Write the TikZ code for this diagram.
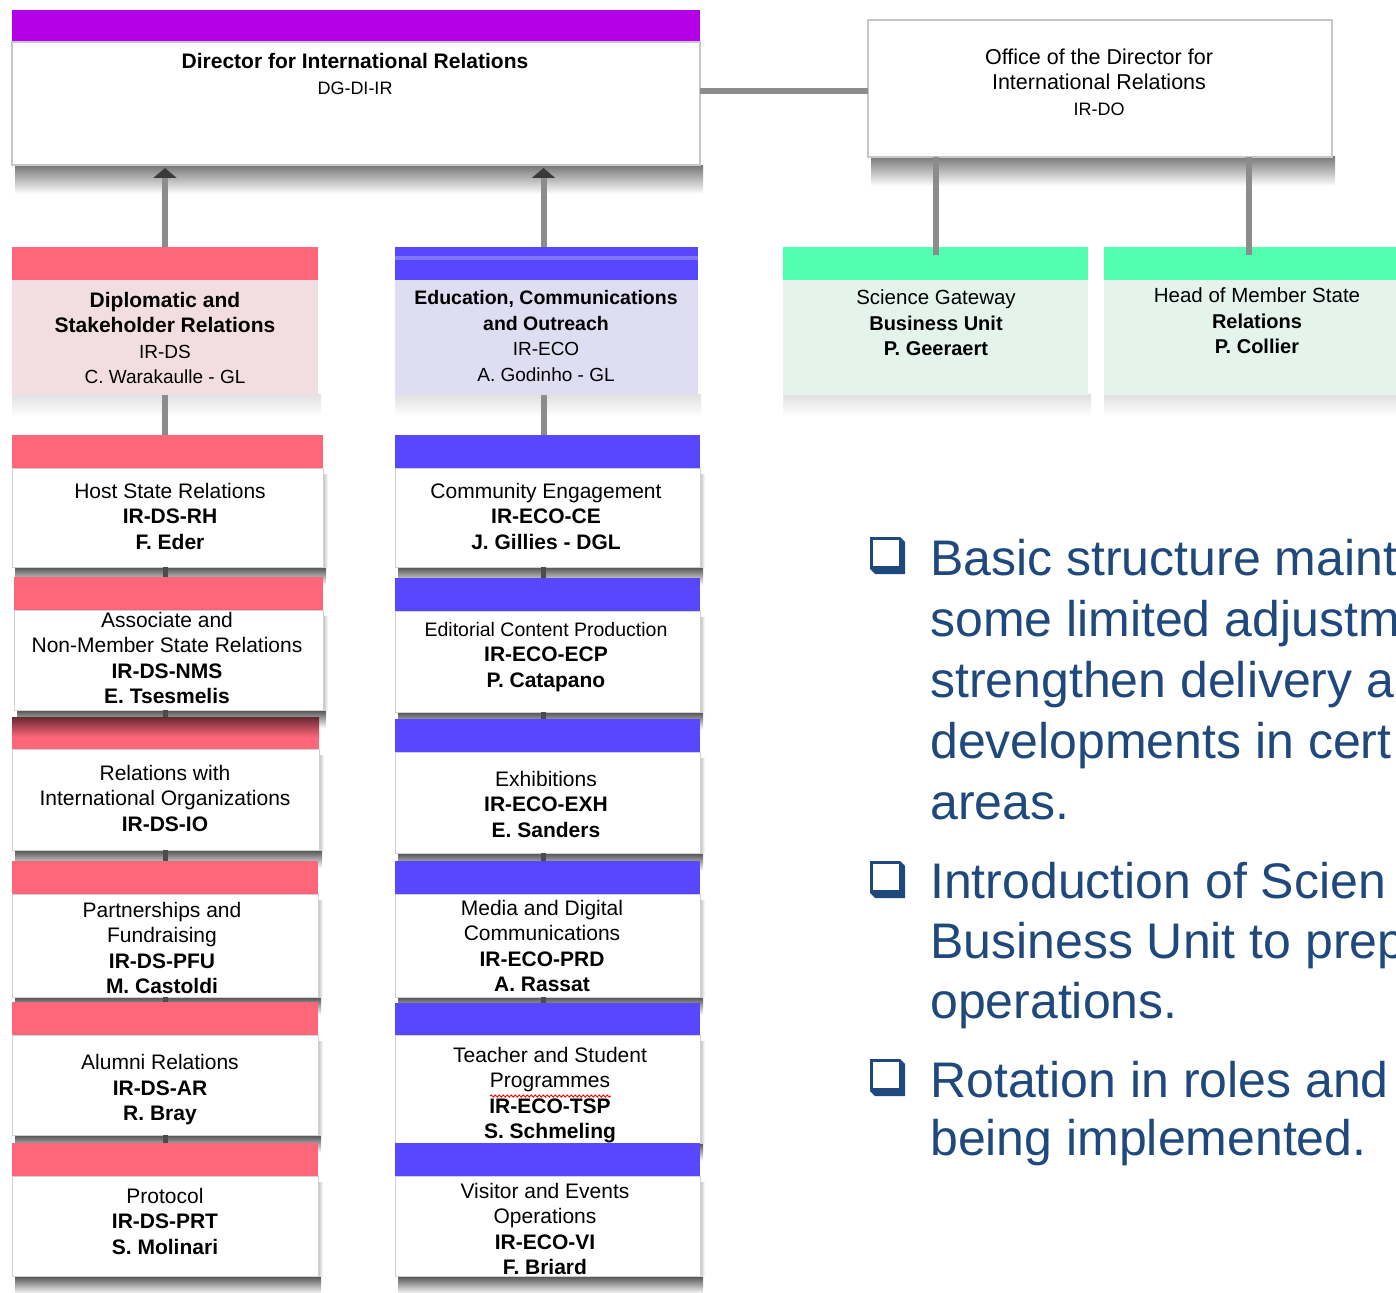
\documentclass[tikz,border=0pt]{standalone}
\usepackage{fontspec}
\setmainfont{Liberation Sans}
\usetikzlibrary{arrows.meta,decorations.pathmorphing}
\definecolor{purplebar}{RGB}{179,0,230}
\definecolor{pinkbar}{RGB}{255,102,122}
\definecolor{bluebar}{RGB}{87,71,255}
\definecolor{greenbar}{RGB}{82,255,176}
\definecolor{pinkbody}{RGB}{242,222,225}
\definecolor{bluebody}{RGB}{222,221,242}
\definecolor{greenbody}{RGB}{228,244,236}
\definecolor{conncol}{RGB}{140,140,140}
\definecolor{tipcol}{RGB}{58,58,58}
\definecolor{bulcol}{RGB}{31,73,125}
\tikzset{
  barst/.style={anchor=north west, inner sep=0pt, outer sep=0pt, draw=none},
  bodyst/.style={anchor=north west, inner sep=0pt, outer sep=0pt, draw=black!18, line width=0.8pt},
  txt/.style={align=center, inner sep=0pt, font=\fontsize{21}{25.5}\selectfont},
  conn/.style={draw=conncol, line width=6pt},
  linkst/.style={draw=black!70, line width=5pt},
  arr/.style={conn, -{Triangle[width=23pt,length=10pt,color=tipcol]}, shorten >=3pt},
  bul/.style={anchor=base west, inner sep=0pt, text=bulcol, font=\fontsize{50}{60}\selectfont},
}
% #1 name, #2 x1, #3 x2, #4 bar top, #5 body top, #6 body bottom, #7 bar colour, #8 body colour
\newcommand\orgbox[8]{%
  \shade[top color=black!72, bottom color=white] (#2+3,#6-1) rectangle (#3+3,#6+18);
  \shade[left color=black!30, right color=white] (#3-1,#5+6) rectangle (#3+5,#6);
  \node[barst, fill=#7, minimum width={#3-#2}, minimum height={#5-#4}] (#1bar) at (#2,#4) {};
  \node[bodyst, fill=#8, minimum width={#3-#2}, minimum height={#6-#5}] (#1) at (#2,#5) {};
}
% light shadow for header boxes
\newcommand\hdbox[8]{%
  \shade[top color=black!12, bottom color=white] (#2,#6-1) rectangle (#3+3,#6+22);
  \node[barst, fill=#7, minimum width={#3-#2}, minimum height={#5-#4}] (#1bar) at (#2,#4) {};
  \node[barst, fill=#8, minimum width={#3-#2}, minimum height={#6-#5}] (#1) at (#2,#5) {};
}
% shadowed square bullet, #1 = x left, #2 = y top
\newcommand\sqbullet[2]{%
  \fill[bulcol] (#1,#2) -- (#1+30,#2) -- (#1+35,#2+5) -- (#1+35,#2+37) -- (#1+5,#2+37) -- (#1,#2+32) -- cycle;
  \fill[white] (#1+3,#2+3) rectangle (#1+29,#2+29);
}
\begin{document}
\begin{tikzpicture}[x=1pt,y=-1pt]
\useasboundingbox (0,0) rectangle (1396,1292);
\clip (0,0) rectangle (1396,1292);

% ---------- Director ----------
\shade[top color=black!52, bottom color=white] (15,166) rectangle (703,194);
\node[barst, fill=purplebar, minimum width=688, minimum height=32] (dirbar) at (12,10) {};
\node[bodyst, fill=white, draw=black!22, line width=1.5pt, minimum width=688, minimum height=123] (dir) at (12,42) {};
\node[txt] (dirt) at (355,74) {{\bfseries Director for International Relations}\\{\fontsize{18}{25.5}\selectfont DG-DI-IR}};

% ---------- Office ----------
\shade[top color=black!52, bottom color=white] (871,157) rectangle (1335,186);
\node[anchor=north west, inner sep=0pt, outer sep=0pt, draw=black!22, line width=2.5pt, fill=white, minimum width=464, minimum height=137] (office) at (868,20) {};
\node[txt, font=\fontsize{21.5}{25.5}\selectfont] (officet) at (1099,82) {Office of the Director for\\International Relations\\{\fontsize{18}{25.5}\selectfont IR-DO}};

% ---------- Header boxes ----------
\hdbox{ds}{12}{318}{247}{280}{395}{pinkbar}{pinkbody}
\hdbox{eco}{395}{698}{247}{280}{395}{bluebar}{bluebody}
\fill[bluebar!75!white] (395,256) rectangle (698,260);
\hdbox{sg}{783}{1088}{247}{280}{395}{greenbar}{greenbody}
\hdbox{ms}{1104}{1410}{247}{280}{395}{greenbar}{greenbody}

\node[txt] (dst) at (165,338) {{\bfseries Diplomatic and}\\{\bfseries Stakeholder Relations}\\{\fontsize{19}{25.5}\selectfont IR-DS}\\{\fontsize{19}{25.5}\selectfont C. Warakaulle - GL}};
\node[txt] (ecot) at (546,336) {{\fontsize{19.5}{25.5}\selectfont\bfseries Education, Communications}\\{\fontsize{19.5}{25.5}\selectfont\bfseries and Outreach}\\{\fontsize{19}{25.5}\selectfont IR-ECO}\\{\fontsize{19}{25.5}\selectfont A. Godinho - GL}};
\node[txt, font=\fontsize{20.5}{25.5}\selectfont] (sgt) at (936,323) {Science Gateway\\{\bfseries\fontsize{20}{25.5}\selectfont Business Unit}\\{\bfseries\fontsize{20}{25.5}\selectfont P. Geeraert}};
\node[txt, font=\fontsize{20.5}{25.5}\selectfont] (mst) at (1257,321) {Head of Member State\\{\bfseries\fontsize{20}{25.5}\selectfont Relations}\\{\bfseries\fontsize{20}{25.5}\selectfont P. Collier}};

% ---------- DS column ----------
\orgbox{hs}{12}{323}{435}{468}{567}{pinkbar}{white}
\orgbox{nms}{14}{323}{577}{610}{710}{pinkbar}{white}
\orgbox{io}{12}{319}{717}{749}{850}{pinkbar}{white}
\shade[top color=pinkbar!40!black, bottom color=pinkbar] (12,717) rectangle (319,737);
\orgbox{pfu}{12}{318}{861}{894}{997}{pinkbar}{white}
\orgbox{ar}{12}{318}{1002}{1035}{1135}{pinkbar}{white}
\orgbox{prt}{12}{318}{1143}{1176}{1276}{pinkbar}{white}

% ---------- ECO column ----------
\orgbox{ce}{395}{700}{435}{468}{567}{bluebar}{white}
\orgbox{ecp}{395}{700}{578}{611}{712}{bluebar}{white}
\orgbox{exh}{395}{700}{719}{752}{853}{bluebar}{white}
\orgbox{prd}{395}{700}{861}{894}{997}{bluebar}{white}
\orgbox{tsp}{395}{700}{1003}{1035}{1143}{bluebar}{white}
\orgbox{vi}{395}{700}{1143}{1176}{1276}{bluebar}{white}

% ---------- texts of units ----------
\node[txt] (hst) at (170,516) {Host State Relations\\{\bfseries IR-DS-RH}\\{\bfseries F. Eder}};
\node[txt] (nmst) at (167,658) {Associate and\\Non-Member State Relations\\{\bfseries IR-DS-NMS}\\{\bfseries E. Tsesmelis}};
\node[txt] (iot) at (165,798) {Relations with\\International Organizations\\{\bfseries IR-DS-IO}};
\node[txt] (pfut) at (162,948) {Partnerships and\\Fundraising\\{\bfseries IR-DS-PFU}\\{\bfseries M. Castoldi}};
\node[txt] (art) at (160,1090) {Alumni Relations\\{\bfseries IR-DS-AR}\\{\bfseries R. Bray}};
\node[txt] (prtt) at (165,1221) {Protocol\\{\bfseries IR-DS-PRT}\\{\bfseries S. Molinari}};

\node[txt] (cet) at (546,516) {Community Engagement\\{\bfseries IR-ECO-CE}\\{\bfseries J. Gillies - DGL}};
\node[txt] (ecpt) at (546,657) {{\fontsize{19.5}{25.5}\selectfont Editorial Content Production}\\{\bfseries IR-ECO-ECP}\\{\bfseries P. Catapano}};
\node[txt] (exht) at (546,804) {Exhibitions\\{\bfseries IR-ECO-EXH}\\{\bfseries E. Sanders}};
\node[txt] (prdt) at (542,946) {Media and Digital\\Communications\\{\bfseries IR-ECO-PRD}\\{\bfseries A. Rassat}};
\node[txt] (tspt) at (550,1095) {Teacher and Student\\Programmes\\{\bfseries IR-ECO-TSP}\\{\bfseries S. Schmeling}};
\node[txt] (vit) at (545,1229) {Visitor and Events\\Operations\\{\bfseries IR-ECO-VI}\\{\bfseries F. Briard}};
\draw[red, line width=0.9pt, decorate, decoration={snake, amplitude=1.1pt, segment length=4pt}] (490,1096) -- (611,1096);

% ---------- connectors ----------
\draw[conn] ([yshift=-3pt]office.west) -- ([yshift=-3pt]office.west -| dir.east);
\draw[conn] (sgbar.north |- office.south) -- ([yshift=-8pt]sgbar.north);
\draw[conn] ([xshift=-8pt]msbar.north |- office.south) -- ([xshift=-8pt,yshift=-8pt]msbar.north);
\draw[arr] (dsbar.north) -- (dsbar.north |- dir.south);
\draw[arr] ([xshift=-3pt]ecobar.north) -- ([xshift=-3pt]ecobar.north |- dir.south);
\draw[conn] (ds.south) -- (ds.south |- hsbar.north);
\draw[conn] ([xshift=-3pt]eco.south) -- ([xshift=-3pt]eco.south |- cebar.north);
\foreach \a/\b in {hs/nms, nms/io, io/pfu, pfu/ar, ar/prt}
  \draw[linkst] (ds.south |- \a.south) -- (ds.south |- \b bar.north);
\foreach \a/\b in {ce/ecp, ecp/exh, exh/prd, prd/tsp}
  \draw[linkst] ([xshift=-3pt]eco.south |- \a.south) -- ([xshift=-3pt]eco.south |- \b bar.north);

% ---------- bullets ----------
\sqbullet{870}{537}
\sqbullet{870}{861}
\sqbullet{870}{1059}
\node[bul] (b1a) at (930,575) {Basic structure maint};
\node[bul] (b1b) at (930,636) {some limited adjustm};
\node[bul] (b1c) at (930,697) {strengthen delivery a};
\node[bul] (b1d) at (930,758) {developments in cert};
\node[bul] (b1e) at (930,819) {areas.};
\node[bul] (b2a) at (930,898) {Introduction of Scien};
\node[bul] (b2b) at (930,958) {Business Unit to prep};
\node[bul] (b2c) at (930,1018) {operations.};
\node[bul] (b3a) at (930,1097) {Rotation in roles and};
\node[bul] (b3b) at (930,1155) {being implemented.};
\end{tikzpicture}
\end{document}
